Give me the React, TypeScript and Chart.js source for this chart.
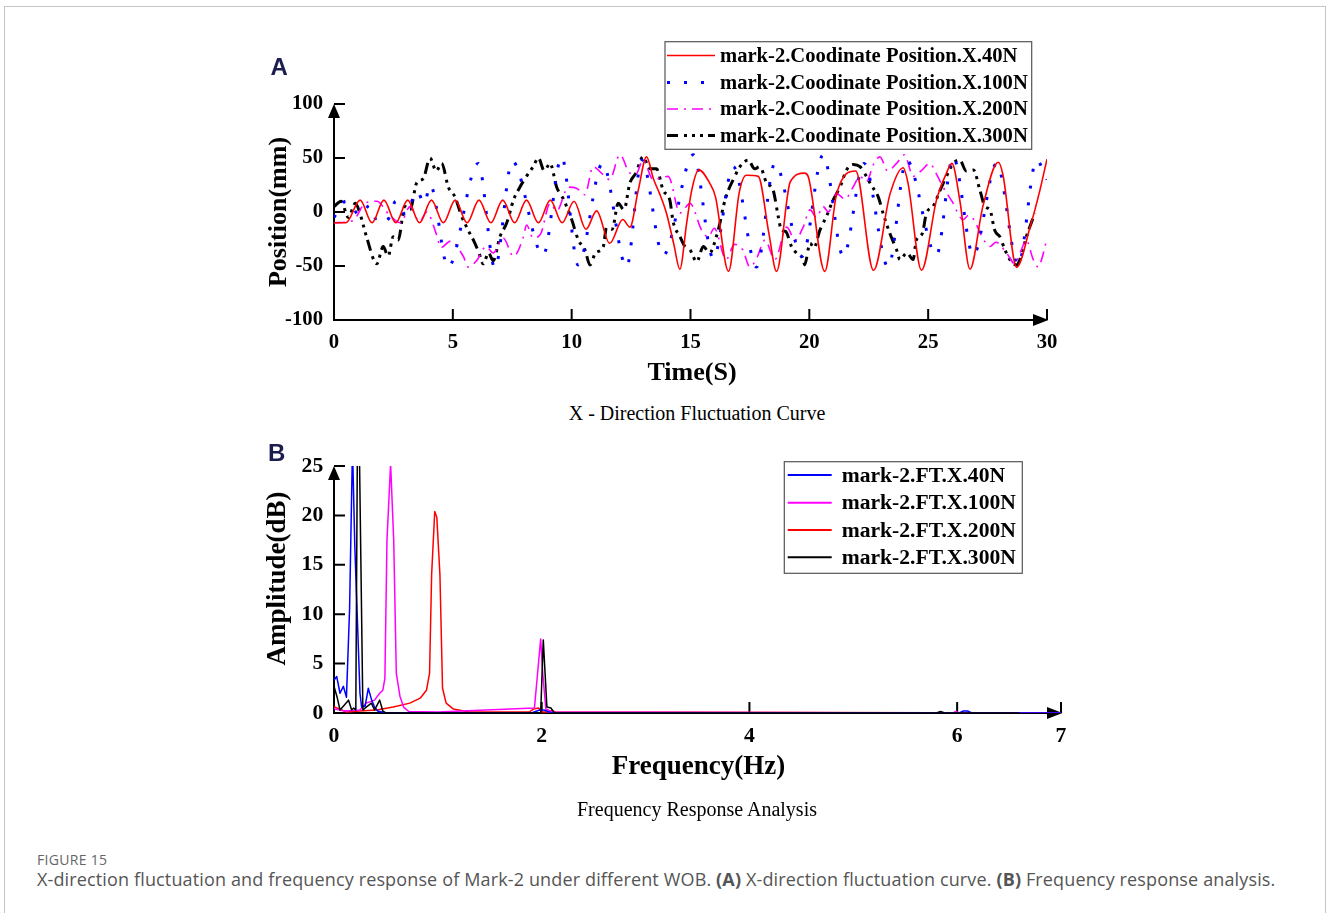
import React, { useEffect, useRef } from "react";
import { Chart, registerables } from "chart.js";
Chart.register(...registerables);

// ---------------- Panel A : X-direction fluctuation ----------------
const timeTicks = [0, 5, 10, 15, 20, 25, 30];
const posTicks = [-100, -50, 0, 50, 100];

const redT = [0, 0.5, 1.1, 1.6, 2.1, 2.6, 3.1, 3.6, 4.1, 4.6, 5.1, 5.6, 6.1, 6.6, 7.1, 7.6, 8.1, 8.6, 9.1, 9.6, 10.1, 10.6, 11.05, 11.6, 12.15, 12.45, 12.8, 13.15, 13.45, 13.7, 14.0, 14.3, 14.55, 14.84, 15.05, 15.35, 15.8, 16.05, 16.6, 17.05, 17.35, 17.85, 18.3, 18.62, 19.2, 19.8, 19.95, 20.65, 21.15, 21.95, 22.7, 23.4, 23.95, 24.15, 24.72, 25.35, 25.75, 26.0, 26.33, 26.76, 27.3, 27.95, 28.15, 28.72, 29.3, 29.7, 30];
const redY = [-10, -10, 11, -10, 11, -10, 11, -10, 11, -10, 11, -10, 11, -10, 11, -10, 11, -10, 11, -10, 10, -16, 1, -29, -7, -14, 20, 51, 30, 17, -2, -30, -53, -10, 20, 39, 27, 14, -55, 18, 34, 33, -20, -55, 28, 36, 33, -55, 17, 38, -54, 17, 41, 27, -54, 11, 35, 45, 11, -53, 5, 46, 34, -51, -13, 20, 49];

const blueT = [0, 0.5, 1.1, 1.5, 1.85, 2.3, 2.6, 3.0, 3.5, 3.8, 4.05, 4.8, 6.07, 6.77, 7.5, 8.8, 9.58, 10.27, 11.3, 12.31, 12.95, 13.85, 15.12, 15.96, 16.8, 17.78, 18.55, 19.7, 20.58, 21.43, 22.3, 23.32, 24.09, 25.35, 26.05, 26.9, 27.88, 28.79, 29.56, 30];
const blueY = [-5, 10, -3, 6, -10, -6, 10, -2, 19, 8, 25, -51, 45, -52, 47, -40, 51, -49, 45, -51, 48, -40, 53, -43, 42, -51, 45, -41, 53, -41, 45, -51, 48, -40, 51, -40, 45, -49, 48, 30];

const magT = [0, 0.8, 1.3, 1.8, 2.3, 2.8, 3.2, 3.6, 3.9, 4.3, 4.5, 4.9, 5.44, 5.65, 6.0, 6.4, 6.7, 7.12, 7.55, 7.97, 8.1, 8.38, 8.7, 9.09, 9.37, 9.86, 10.2, 10.56, 10.9, 11.3, 11.6, 12.03, 12.45, 12.7, 13.0, 13.43, 14.06, 14.56, 14.98, 15.47, 15.75, 16.0, 16.5, 16.85, 17.2, 17.5, 17.8, 18.13, 18.55, 19.05, 19.4, 19.74, 20.03, 20.3, 20.58, 20.8, 21.15, 21.5, 21.84, 22.13, 22.4, 22.7, 22.97, 23.3, 23.67, 24.0, 24.37, 24.7, 25.07, 25.35, 25.63, 26.0, 26.47, 26.7, 26.95, 27.2, 27.6, 27.85, 28.3, 28.65, 28.9, 29.13, 29.42, 29.63, 29.8, 30];
const magY = [-10, -8, 8, 10, -2, -10, 5, -9, 0, -20, -33, -27, -41, -51, -45, -32, -38, -24, -41, -23, -12, -24, -20, 8, 1, 23, 22, 16, 42, 35, 30, 53, 36, 35, 48, 30, 33, -1, 8, -17, -23, -15, -44, -30, -35, -51, -42, -26, -44, -14, -26, -14, 2, -5, 5, 0, 17, 12, 23, 33, 28, 44, 51, 38, 45, 53, 33, 38, 45, 35, 23, 10, -7, -3, -8, -20, -32, -28, -38, -48, -36, -26, -44, -51, -42, -24];

const blkT = [0, 0.3, 0.6, 0.9, 1.1, 1.37, 1.8, 2.07, 2.28, 2.49, 2.7, 2.98, 3.2, 3.48, 3.76, 4.04, 4.3, 4.53, 4.81, 5.09, 5.37, 5.65, 5.93, 6.1, 6.28, 6.5, 6.7, 6.98, 7.27, 7.55, 7.82, 8.1, 8.38, 8.6, 8.85, 9.09, 9.37, 9.65, 10.0, 10.28, 10.56, 10.77, 11.0, 11.33, 11.47, 11.7, 11.96, 12.2, 12.45, 12.7, 13.0, 13.3, 13.57, 13.85, 14.13, 14.27, 14.56, 14.77, 14.98, 15.26, 15.54, 15.8, 16.1, 16.24, 16.38, 16.59, 16.8, 17.08, 17.43, 17.7, 17.92, 18.2, 18.48, 18.69, 18.83, 19.0, 19.25, 19.46, 19.74, 19.8, 20.03, 20.2, 20.44, 20.72, 21.0, 21.29, 21.57, 21.85, 22.13, 22.4, 22.6, 22.9, 23.1, 23.39, 23.67, 23.81, 24.1, 24.37, 24.5, 24.75, 24.93, 25.2, 25.5, 25.77, 26.05, 26.33, 26.6, 26.9, 27.18, 27.39, 27.6, 27.8, 28.02, 28.23, 28.44, 28.72, 28.95, 29.13, 29.34, 29.49];
const blkY = [5, 10, -5, 8, -2, -23, -48, -32, -41, -23, -26, 5, 2, 27, 31, 50, 38, 45, 23, 14, -4, -17, -29, -38, -48, -38, -45, -23, -10, 11, 23, 33, 42, 50, 38, 45, 23, 12, -7, -26, -35, -49, -38, -32, -14, -16, 8, 2, 27, 36, 51, 40, 40, 20, 11, -9, -23, -32, -35, -46, -32, -38, -22, -10, 5, 20, 30, 42, 48, 40, 42, 27, 20, -4, -17, -18, -32, -38, -44, -49, -29, -33, -17, -4, 11, 23, 39, 44, 42, 33, 25, 14, -1, -20, -35, -44, -38, -44, -26, -20, -1, 5, 20, 33, 45, 48, 38, 39, 20, 5, 2, -17, -23, -35, -44, -49, -38, -23, -10, -1];

const labelsA = [
  "mark-2.Coodinate Position.X.40N",
  "mark-2.Coodinate Position.X.100N",
  "mark-2.Coodinate Position.X.200N",
  "mark-2.Coodinate Position.X.300N",
];

// ---------------- Panel B : frequency response ----------------
const freqTicks = [0, 2, 4, 6, 7];
const ampTicks = [0, 5, 10, 15, 20, 25];

const ft40F = [0, 0.026, 0.058, 0.09, 0.12, 0.15, 0.178, 0.2, 0.25, 0.266, 0.3, 0.33, 0.36, 0.39, 0.42, 0.5, 1.9, 1.98, 2.02, 2.1, 6.02, 6.06, 6.1, 6.14, 7];
const ft40A = [3.3, 3.7, 2.0, 2.7, 1.6, 10.5, 27, 17, 2, 0.6, 0.7, 2.5, 1.4, 0.6, 0.2, 0, 0, 0.3, 0.3, 0, 0, 0.2, 0.2, 0, 0];

const ft100F = [0, 0.01, 0.1, 0.25, 0.31, 0.39, 0.44, 0.47, 0.49, 0.51, 0.545, 0.575, 0.6, 0.635, 0.67, 0.72, 1.0, 1.93, 1.96, 1.99, 2.01, 2.04, 2.1, 5.96, 5.99, 6.02, 7];
const ft100A = [0.5, 0.4, 0.2, 0.3, 1.0, 1.3, 2.0, 2.3, 3.5, 17.5, 25.2, 17.5, 4, 1.7, 0.6, 0.15, 0.1, 0.5, 4, 7.5, 4, 0.4, 0.1, 0, 0.15, 0, 0];

const ft200F = [0, 0.01, 0.12, 0.25, 0.41, 0.57, 0.73, 0.83, 0.89, 0.92, 0.94, 0.97, 0.99, 1.02, 1.045, 1.08, 1.15, 1.3, 1.88, 1.92, 1.97, 2.0, 2.07, 2.1, 2.13, 7];
const ft200A = [0.6, 0.6, 0.1, 0.2, 0.3, 0.6, 1.0, 1.5, 2.3, 4, 14, 20.4, 19.8, 14, 2.5, 1, 0.4, 0.1, 0.1, 0.4, 0.5, 0.1, 0.1, 0.3, 0.1, 0];

const ft300F = [0, 0.03, 0.058, 0.1, 0.14, 0.17, 0.19, 0.21, 0.228, 0.24, 0.278, 0.31, 0.36, 0.39, 0.44, 0.47, 0.5, 1.99, 2.015, 2.05, 2.09, 2.12, 5.8, 5.84, 5.88, 6.6];
const ft300A = [2.7, 1.6, 0.3, 0.8, 1.3, 0.3, 0.5, 0.3, 32, 30, 0.3, 0.6, 1.0, 0.3, 1.3, 0.2, 0, 0, 7.4, 0.6, 0.5, 0, 0, 0.15, 0, 0];

const labelsB = ["mark-2.FT.X.40N", "mark-2.FT.X.100N", "mark-2.FT.X.200N", "mark-2.FT.X.300N"];

// ---------------- helpers ----------------
const SERIF = '"Liberation Serif", "Times New Roman", serif';
const toPts = (xs: number[], ys: number[]) => xs.map((x, i) => ({ x, y: ys[i] }));

type Entry = { label: string; color: string; width: number; dash: number[] };
interface DecorCfg {
  xTicks: number[];
  yTicks: number[];
  xTitle: string;
  yTitle: string;
  xTitlePos: [number, number];
  yTitlePos: [number, number];
  titleSize: number;
  box: [number, number, number, number];
  rows: number[];
  lineX: [number, number];
  textX: number;
  legendSize: number;
  entries: Entry[];
}

function makeDecor(cfg: DecorCfg) {
  return {
    id: "decor",
    beforeDatasetsDraw(chart: any) {
      const { ctx, chartArea } = chart;
      const { left, right, top, bottom } = chartArea;
      const xs = chart.scales.x;
      const ys = chart.scales.y;
      ctx.save();
      ctx.strokeStyle = "#000";
      ctx.fillStyle = "#000";
      ctx.lineWidth = 2;
      ctx.setLineDash([]);
      ctx.beginPath();
      ctx.moveTo(left, bottom + 1);
      ctx.lineTo(left, top + 4);
      ctx.moveTo(left - 1, bottom);
      ctx.lineTo(right - 4, bottom);
      cfg.yTicks.forEach((v) => {
        if (v === ys.min) return;
        const p = ys.getPixelForValue(v);
        ctx.moveTo(left, p);
        ctx.lineTo(left + 11, p);
      });
      cfg.xTicks.forEach((v) => {
        if (v === xs.min) return;
        const p = xs.getPixelForValue(v);
        ctx.moveTo(p, bottom);
        ctx.lineTo(p, bottom - 11);
      });
      ctx.stroke();
      // arrows
      ctx.beginPath();
      ctx.moveTo(left, top);
      ctx.lineTo(left - 6, top + 14);
      ctx.lineTo(left + 6, top + 14);
      ctx.closePath();
      ctx.fill();
      ctx.beginPath();
      ctx.moveTo(right + 1.5, bottom);
      ctx.lineTo(right - 14, bottom - 6);
      ctx.lineTo(right - 14, bottom + 6);
      ctx.closePath();
      ctx.fill();
      ctx.restore();
    },
    afterDatasetsDraw(chart: any) {
      const ctx = chart.ctx;
      ctx.save();
      // titles
      ctx.fillStyle = "#000";
      ctx.font = `bold ${cfg.titleSize}px ${SERIF}`;
      ctx.textAlign = "center";
      ctx.textBaseline = "middle";
      ctx.fillText(cfg.xTitle, cfg.xTitlePos[0], cfg.xTitlePos[1]);
      ctx.save();
      ctx.translate(cfg.yTitlePos[0], cfg.yTitlePos[1]);
      ctx.rotate(-Math.PI / 2);
      ctx.fillText(cfg.yTitle, 0, 0);
      ctx.restore();
      // legend
      const [bx, by, bw, bh] = cfg.box;
      ctx.fillStyle = "#fff";
      ctx.fillRect(bx, by, bw, bh);
      ctx.strokeStyle = "#555";
      ctx.lineWidth = 1.2;
      ctx.strokeRect(bx, by, bw, bh);
      cfg.entries.forEach((e, i) => {
        const y = cfg.rows[i];
        ctx.strokeStyle = e.color;
        ctx.lineWidth = e.width;
        ctx.lineCap = "butt";
        ctx.setLineDash(e.dash);
        ctx.beginPath();
        ctx.moveTo(cfg.lineX[0], y);
        ctx.lineTo(cfg.lineX[1], y);
        ctx.stroke();
        ctx.setLineDash([]);
        ctx.fillStyle = "#000";
        ctx.font = `bold ${cfg.legendSize}px ${SERIF}`;
        ctx.textAlign = "left";
        ctx.textBaseline = "middle";
        ctx.fillText(e.label, cfg.textX, y + 1);
      });
      ctx.restore();
    },
  };
}

function scaleOpts(min: number, max: number, ticks: number[], size: number, pad: number, isX: boolean, fit: number) {
  return {
    type: "linear",
    min,
    max,
    grid: { display: false, drawTicks: false },
    border: { display: false },
    title: { display: false },
    ticks: {
      autoSkip: false,
      maxRotation: 0,
      minRotation: 0,
      color: "#000",
      padding: pad,
      font: { family: SERIF, weight: "bold", size },
    },
    afterBuildTicks: (s: any) => {
      s.ticks = ticks.map((v) => ({ value: v }));
    },
    afterFit: (s: any) => {
      if (isX) s.height = fit;
      else s.width = fit;
    },
  };
}

const blueDash = [3, 14];
const magDash = [11, 6, 2, 6];
const blackDash = [11, 6, 3, 5, 3, 5, 3, 5];

export default function App() {
  const refA = useRef<HTMLCanvasElement>(null);
  const refB = useRef<HTMLCanvasElement>(null);

  useEffect(() => {
    document.body.style.overflow = "hidden";
    const lineBase = { pointRadius: 0, fill: false, borderCapStyle: "butt", borderJoinStyle: "round" };
    const smooth = { cubicInterpolationMode: "monotone", tension: 0.4 };

    const chartA = new Chart(refA.current as HTMLCanvasElement, {
      type: "line",
      data: {
        datasets: [
          { label: labelsA[0], data: toPts(redT, redY), borderColor: "#ff0000", borderWidth: 1.6, ...lineBase, ...smooth },
          { label: labelsA[1], data: toPts(blueT, blueY), borderColor: "#0000ff", borderWidth: 3, borderDash: blueDash, ...lineBase, ...smooth },
          { label: labelsA[2], data: toPts(magT, magY), borderColor: "#ff00ff", borderWidth: 1.6, borderDash: magDash, ...lineBase, ...smooth },
          { label: labelsA[3], data: toPts(blkT, blkY), borderColor: "#000000", borderWidth: 3, borderDash: blackDash, ...lineBase, ...smooth },
        ],
      } as any,
      options: {
        animation: false,
        responsive: false,
        devicePixelRatio: 1,
        layout: { padding: { left: 0, right: 33, top: 74, bottom: 0 } },
        scales: {
          x: scaleOpts(0, 30, timeTicks, 20.7, 10, true, 80),
          y: scaleOpts(-100, 100, posTicks, 20.7, 11, false, 94),
        },
        plugins: { legend: { display: false }, tooltip: { enabled: false } },
      } as any,
      plugins: [
        makeDecor({
          xTicks: timeTicks,
          yTicks: posTicks,
          xTitle: "Time(S)",
          yTitle: "Position(mm)",
          xTitlePos: [452, 343.5],
          yTitlePos: [39, 182],
          titleSize: 26,
          box: [425, 11.7, 366.7, 107.6],
          rows: [25.5, 52.5, 79, 105.5],
          lineX: [427, 475],
          textX: 480,
          legendSize: 20.6,
          entries: [
            { label: labelsA[0], color: "#ff0000", width: 1.6, dash: [] },
            { label: labelsA[1], color: "#0000ff", width: 3, dash: blueDash },
            { label: labelsA[2], color: "#ff00ff", width: 1.6, dash: magDash },
            { label: labelsA[3], color: "#000000", width: 3, dash: blackDash },
          ],
        }),
      ] as any,
    });

    const chartB = new Chart(refB.current as HTMLCanvasElement, {
      type: "line",
      data: {
        datasets: [
          { label: labelsB[3], data: toPts(ft300F, ft300A), borderColor: "#000000", borderWidth: 1.5, tension: 0, ...lineBase },
          { label: labelsB[0], data: toPts(ft40F, ft40A), borderColor: "#0000ff", borderWidth: 1.5, tension: 0, ...lineBase },
          { label: labelsB[1], data: toPts(ft100F, ft100A), borderColor: "#ff00ff", borderWidth: 1.5, tension: 0, ...lineBase },
          { label: labelsB[2], data: toPts(ft200F, ft200A), borderColor: "#ff0000", borderWidth: 1.5, tension: 0, ...lineBase },
        ],
      } as any,
      options: {
        animation: false,
        responsive: false,
        devicePixelRatio: 1,
        layout: { padding: { left: 0, right: 19, top: 26, bottom: 0 } },
        scales: {
          x: scaleOpts(0, 7, freqTicks, 21.7, 10, true, 87),
          y: scaleOpts(0, 25, ampTicks, 21.7, 10.7, false, 94),
        },
        plugins: { legend: { display: false }, tooltip: { enabled: false } },
      } as any,
      plugins: [
        makeDecor({
          xTicks: freqTicks,
          yTicks: ampTicks,
          xTitle: "Frequency(Hz)",
          yTitle: "Amplitude(dB)",
          xTitlePos: [458.5, 327.5],
          yTitlePos: [38.5, 138.5],
          titleSize: 27,
          box: [544.3, 21.7, 238, 111.6],
          rows: [35, 62.7, 90, 117.3],
          lineX: [547.7, 591.7],
          textX: 601.7,
          legendSize: 21.6,
          entries: [
            { label: labelsB[0], color: "#0000ff", width: 2, dash: [] },
            { label: labelsB[1], color: "#ff00ff", width: 2, dash: [] },
            { label: labelsB[2], color: "#ff0000", width: 2, dash: [] },
            { label: labelsB[3], color: "#000000", width: 2, dash: [] },
          ],
        }),
      ] as any,
    });

    return () => {
      chartA.destroy();
      chartB.destroy();
    };
  }, []);

  const abs = (s: React.CSSProperties): React.CSSProperties => ({ position: "absolute", margin: 0, ...s });

  return (
    <div style={abs({ left: 0, top: 0, width: 1328, height: 913, background: "#fff", overflow: "hidden" })}>
      <div
        style={abs({
          left: 4,
          top: 6,
          width: 1322,
          height: 920,
          border: "1px solid #c4c4c4",
          boxSizing: "border-box",
        })}
      />
      <canvas ref={refA} width={840} height={370} style={abs({ left: 240, top: 30, width: 840, height: 370 })} />
      <canvas ref={refB} width={840} height={360} style={abs({ left: 240, top: 440, width: 840, height: 360 })} />
      <div style={abs({ left: 270.5, top: 54.5, font: 'bold 24px "Liberation Sans", Arial, sans-serif', lineHeight: "24px", color: "#1b1d4f" })}>A</div>
      <div style={abs({ left: 268, top: 441, font: 'bold 24px "Liberation Sans", Arial, sans-serif', lineHeight: "24px", color: "#1b1d4f" })}>B</div>
      <div style={abs({ left: 447, top: 401, width: 500, textAlign: "center", font: `20px ${SERIF}`, lineHeight: "24px", color: "#000" })}>
        X - Direction Fluctuation Curve
      </div>
      <div style={abs({ left: 447, top: 797, width: 500, textAlign: "center", font: `20px ${SERIF}`, lineHeight: "24px", color: "#000" })}>
        Frequency Response Analysis
      </div>
      <div style={abs({ left: 37, top: 851, font: '14px "Open Sans", sans-serif', letterSpacing: "0.3px", lineHeight: "18px", color: "#666", whiteSpace: "nowrap" })}>
        FIGURE 15
      </div>
      <div style={abs({ left: 37, top: 868, font: '18px "Open Sans", sans-serif', letterSpacing: "0.14px", lineHeight: "23px", color: "#555", whiteSpace: "nowrap" })}>
        X-direction fluctuation and frequency response of Mark-2 under different WOB. <b>(A)</b> X-direction fluctuation curve.{" "}
        <b>(B)</b> Frequency response analysis.
      </div>
    </div>
  );
}
